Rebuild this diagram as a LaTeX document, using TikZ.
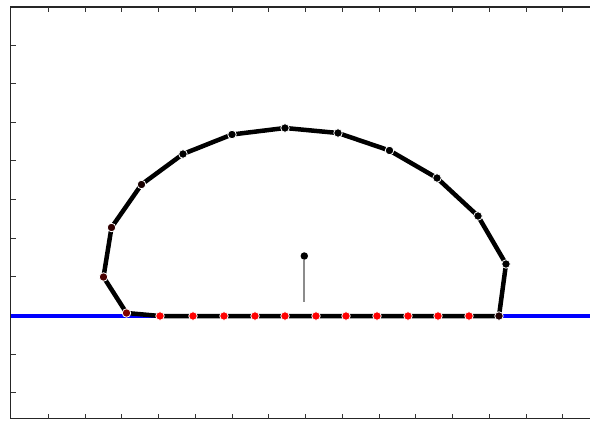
\documentclass[tikz,border=0pt]{standalone}
\usepackage{xcolor}
\usepackage{tikz}

\begin{document}
\begin{tikzpicture}[
    x=1pt, y=-1pt,
    frame/.style={draw=black!85, line width=1.4pt},
    tick/.style={draw=black!80, line width=0.9pt},
    surface/.style={draw=blue, line width=3.5pt},
    contour/.style={draw=black, line width=4.5pt, line join=round},
    needle/.style={draw=black!45, line width=1.8pt},
    dot/.style={circle, draw=white, line width=0.8pt, inner sep=0pt, minimum size=8.5pt}
]
    \useasboundingbox (0,0) rectangle (590,421);
    % axes frame
    \coordinate (tr) at (590,7);
    \coordinate (tl) at (10.5,7);
    \coordinate (bl) at (10.5,418.5);
    \coordinate (br) at (590,418.5);
    \path [frame] (tr) -- (tl) -- (bl) -- (br);
    \foreach \k in {1,...,15} {
        \path [tick] (11.5+36.75*\k,7) -- ++(0,5);
        \path [tick] (11.5+36.75*\k,418.5) -- ++(0,-5);
    }
    \foreach \k in {1,...,10}
        \path [tick] (10.5,6.3+38.65*\k) -- ++(5,0);
    % substrate line
    \coordinate (sl) at (10.5,316);
    \coordinate (sr) at (590,316);
    \path [surface] (sl) -- (sr);
    % droplet contour points
    \foreach \x/\y [count=\i] in {
        499/316, 469/316, 438/316, 408/316, 377/316, 346/316, 316/316,
        285/316, 255/316, 224/316, 193/316, 160/316, 126.5/313,
        103.5/277, 111.5/227.5, 141.5/184.5, 183/154, 232/134.5,
        285/128, 338/133, 389.5/150.5, 437/178, 478/216, 506/264}
        \coordinate (c\i) at (\x,\y);
    \path [contour] (c1) \foreach \i in {2,...,24} { -- (c\i) } -- cycle;
    \foreach \i/\c in {
        1/red!12!black, 2/red, 3/red, 4/red, 5/red, 6/red, 7/red, 8/red,
        9/red, 10/red, 11/red, 12/red, 13/red!50!black, 14/red!29!black,
        15/red!19!black, 16/red!10!black, 17/black, 18/black, 19/black,
        20/black, 21/black, 22/black, 23/black, 24/black}
        \node [dot, fill=\c] (m\i) at (c\i) {};
    % centre marker
    \coordinate (nb) at (304.3,301.7);
    \node [dot, draw=none, fill=black, minimum size=7.5pt] (ctr) at (304.3,256) {};
    \path [needle] (ctr.south) -- (nb);
\end{tikzpicture}
\end{document}
